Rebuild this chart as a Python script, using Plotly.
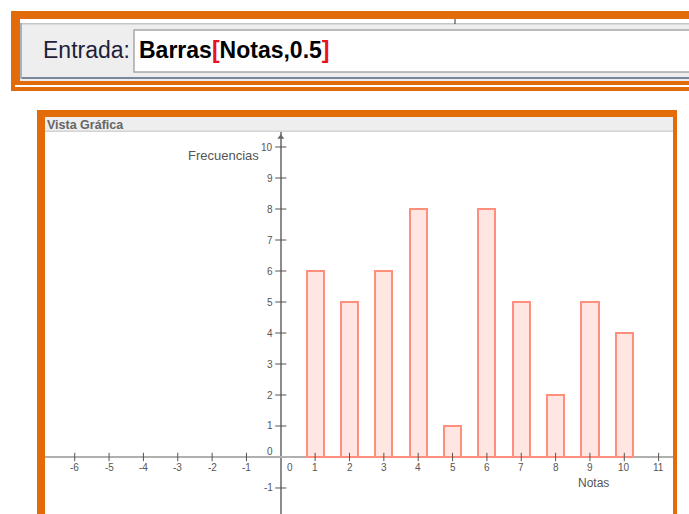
import plotly.graph_objects as go

# ---- data ----
notas = [1, 2, 3, 4, 5, 6, 7, 8, 9, 10]
frecuencias = [6, 5, 6, 8, 1, 8, 5, 2, 5, 4]
ancho = 0.5
x_ticks = list(range(-6, 12))
y_ticks = list(range(-1, 11))
comando_nombre = "Barras"
comando_args = "Notas,0.5"
etiqueta_entrada = "Entrada:"
titulo_vista = "Vista Gráfica"
titulo_x = "Notas"
titulo_y = "Frecuencias"

# ---- geometry (pixels) ----
W, H = 689, 514
L, R, T, B = 45, 673, 132, 514
X_RANGE = [-6.865, 11.418]
Y_RANGE = [-1.839, 10.484]

ORANGE = "#e36c0a"
FILL = "rgba(255,190,178,0.38)"
EDGE = "#ff8f7c"
FONT = "Liberation Sans, Arial, sans-serif"


def px(x):
    return (x - L) / (R - L)


def py(y):
    return (B - y) / (B - T)


def rect(x0, y0, x1, y1, color, line=None):
    d = dict(type="rect", xref="paper", yref="paper",
             x0=px(x0), x1=px(x1), y0=py(y1), y1=py(y0),
             fillcolor=color, layer="above",
             line=dict(width=0) if line is None else line)
    return d


fig = go.Figure()

fig.add_trace(go.Bar(
    x=notas, y=frecuencias, width=ancho,
    marker=dict(color=FILL, line=dict(color=EDGE, width=2)),
    hoverinfo="skip"))

# base segment of the bar polygon
fig.add_trace(go.Scatter(
    x=[notas[0] - ancho / 2, notas[-1] + ancho / 2], y=[0, 0],
    mode="lines", line=dict(color=EDGE, width=2), hoverinfo="skip"))

# tick marks
fig.add_trace(go.Scatter(
    x=[t for t in x_ticks if t != 0], y=[0] * (len(x_ticks) - 1),
    mode="markers",
    marker=dict(symbol="line-ns", size=6, line=dict(color="#555", width=1)),
    hoverinfo="skip"))
fig.add_trace(go.Scatter(
    x=[0] * (len(y_ticks) - 1), y=[t for t in y_ticks if t != 0],
    mode="markers",
    marker=dict(symbol="line-ew", size=8, line=dict(color="#555", width=1)),
    hoverinfo="skip"))
# arrow at the top of the y axis
fig.add_trace(go.Scatter(
    x=[0], y=[Y_RANGE[1] - 0.17], mode="markers",
    marker=dict(symbol="triangle-up", size=6, color="#666"),
    hoverinfo="skip"))

annotations = []
for t in x_ticks:
    annotations.append(dict(
        x=t, y=0, xref="x", yref="y", text=str(t), showarrow=False,
        yshift=-11, xshift=9 if t == 0 else 0,
        font=dict(size=10, color="#555", family=FONT)))
for t in y_ticks:
    if t == 0:
        continue
    annotations.append(dict(
        x=0, y=t, xref="x", yref="y", text=str(t), showarrow=False,
        xanchor="right", xshift=-6,
        font=dict(size=10, color="#555", family=FONT)))
annotations.append(dict(
    x=0, y=0, xref="x", yref="y", text="0", showarrow=False,
    xanchor="right", xshift=-6, yshift=5,
    font=dict(size=10, color="#555", family=FONT)))

annotations.append(dict(
    x=px(261), y=py(155), xref="paper", yref="paper", text=titulo_y,
    showarrow=False, xanchor="right", yanchor="middle",
    font=dict(size=13, color="#555", family=FONT)))
annotations.append(dict(
    x=px(593), y=py(483), xref="paper", yref="paper", text=titulo_x,
    showarrow=False, xanchor="center", yanchor="middle",
    font=dict(size=12, color="#555", family=FONT)))
annotations.append(dict(
    x=px(45), y=py(125), xref="paper", yref="paper",
    text="<b>" + titulo_vista + "</b>",
    showarrow=False, xanchor="left", yanchor="middle",
    font=dict(size=12.5, color="#666", family=FONT)))
annotations.append(dict(
    x=px(41), y=py(50), xref="paper", yref="paper", text=etiqueta_entrada,
    showarrow=False, xanchor="left", yanchor="middle",
    font=dict(size=23, color="#1e1e3a", family=FONT)))
annotations.append(dict(
    x=px(137), y=py(50), xref="paper", yref="paper",
    text="<b>" + comando_nombre + "<span style='color:#e8121c'>[</span>"
         + comando_args + "<span style='color:#e8121c'>]</span></b>",
    showarrow=False, xanchor="left", yanchor="middle",
    font=dict(size=23, color="#000", family=FONT)))

shapes = [
    # top input panel
    rect(11, 11, 700, 91, ORANGE),
    rect(15, 85, 700, 87, "white"),
    rect(20, 19, 700, 81, "#eeeeee"),
    rect(20, 19, 700, 23, "white"),
    rect(20, 23, 700, 24.5, "#c6c6c6"),
    rect(20, 77, 700, 79, "#7a879a"),
    rect(20, 23, 22, 79, "#a9b1c0"),
    rect(134, 30, 700, 72, "white", line=dict(color="#a8a8a8", width=1.5)),
    rect(454.5, 19, 455.5, 24, "#333333"),
    # graphics view frame
    rect(37, 110, 45, 520, ORANGE),
    rect(37, 110, 677, 117, ORANGE),
    rect(673, 110, 677, 520, ORANGE),
    rect(45, 117, 673, 132, "#eeeeee"),
    rect(45, 130.5, 673, 132, "#d4d4d4"),
]

fig.update_layout(
    width=W, height=H,
    margin=dict(l=L, r=W - R, t=T, b=H - B, pad=0),
    paper_bgcolor="white", plot_bgcolor="white",
    showlegend=False,
    bargap=0,
    xaxis=dict(range=X_RANGE, showgrid=False, showticklabels=False,
               showline=False, ticks="", zeroline=True,
               zerolinecolor="#8c8c8c", zerolinewidth=2, fixedrange=True),
    yaxis=dict(range=Y_RANGE, showgrid=False, showticklabels=False,
               showline=False, ticks="", zeroline=True,
               zerolinecolor="#b0b0b0", zerolinewidth=2, fixedrange=True),
    annotations=annotations,
    shapes=shapes,
    font=dict(family=FONT),
)

fig.write_html(
    "out.html",
    config={"displayModeBar": False},
    post_script="document.body.style.margin='0';document.body.style.overflow='hidden';",
)
